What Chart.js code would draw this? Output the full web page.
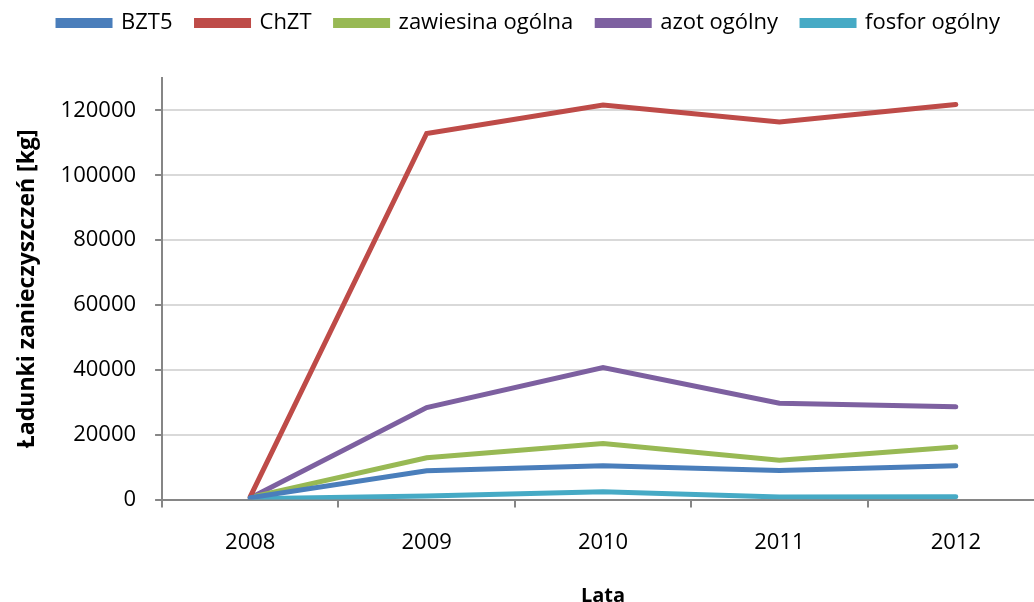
<!DOCTYPE html>
<html>
<head>
<meta charset="utf-8">
<script src="https://cdn.jsdelivr.net/npm/chart.js@4.4.1/dist/chart.umd.min.js"></script>
<style>
  html, body { margin: 0; padding: 0; background: #fff; overflow: hidden; }
  #wrap { width: 1062px; height: 602px; position: relative; }
</style>
</head>
<body>
<div id="wrap"><canvas id="chart"></canvas></div>
<script>
  const years = ['2008', '2009', '2010', '2011', '2012'];
  const bzt5 = [600, 8900, 10400, 9000, 10400];
  const chzt = [900, 112900, 121700, 116400, 121800];
  const zawiesina = [700, 12900, 17300, 12100, 16200];
  const azot = [500, 28400, 40700, 29700, 28600];
  const fosfor = [300, 1100, 2400, 800, 900];
  const yTicks = [0, 20000, 40000, 60000, 80000, 100000, 120000];

  const FONT = 'Open Sans';
  const AXIS = '#868686';
  const GRID = '#d9d9d9';

  function series(label, data, color) {
    return {
      label: label,
      data: data,
      borderColor: color,
      backgroundColor: color,
      borderWidth: 5,
      pointRadius: 0,
      tension: 0,
      borderCapStyle: 'round',
      borderJoinStyle: 'miter',
    };
  }

  // extra room under the legend, like the original
  const legendGap = {
    id: 'legendGap',
    beforeInit(chart) {
      const fit = chart.legend.fit;
      chart.legend.fit = function () {
        fit.call(this);
        this.height += 34;
      };
    },
  };

  new Chart(document.getElementById('chart'), {
    type: 'line',
    data: {
      labels: years,
      datasets: [
        series('BZT5', bzt5, '#4A7EBB'),
        series('ChZT', chzt, '#BE4B48'),
        series('zawiesina ogólna', zawiesina, '#98B954'),
        series('azot ogólny', azot, '#7D60A0'),
        series('fosfor ogólny', fosfor, '#46AAC5'),
      ],
    },
    plugins: [legendGap],
    options: {
      responsive: true,
      maintainAspectRatio: false,
      animation: false,
      layout: { padding: { top: -12, right: 18, left: 14, bottom: -6 } },
      plugins: {
        legend: {
          position: 'top',
          labels: {
            boxWidth: 52,
            boxHeight: 5,
            padding: 24,
            color: '#000',
            font: { family: FONT, size: 22 },
          },
        },
        tooltip: { enabled: false },
      },
      scales: {
        x: {
          offset: true,
          grid: {
            offset: true,
            drawOnChartArea: false,
            drawTicks: true,
            tickLength: 8,
            color: AXIS,
            lineWidth: 2,
          },
          border: { color: AXIS, width: 2 },
          ticks: { color: '#000', padding: 22, font: { family: FONT, size: 22 } },
          title: {
            display: true,
            text: 'Lata',
            color: '#000',
            padding: { top: 6, bottom: 0 },
            font: { family: FONT, size: 20, weight: 'bold' },
          },
        },
        y: {
          min: 0,
          max: 130000,
          afterBuildTicks: (scale) => {
            scale.ticks = yTicks.map((v) => ({ value: v }));
          },
          grid: {
            color: GRID,
            lineWidth: 2,
            tickLength: 7,
            tickColor: AXIS,
          },
          border: { color: AXIS, width: 2 },
          ticks: {
            color: '#000',
            padding: 19,
            font: { family: FONT, size: 22 },
            callback: (v) => String(v),
          },
          title: {
            display: true,
            text: 'Ładunki zanieczyszczeń [kg]',
            color: '#000',
            padding: { top: 0, bottom: 0 },
            font: { family: FONT, size: 23, weight: 'bold' },
          },
        },
      },
    },
  });
</script>
</body>
</html>
